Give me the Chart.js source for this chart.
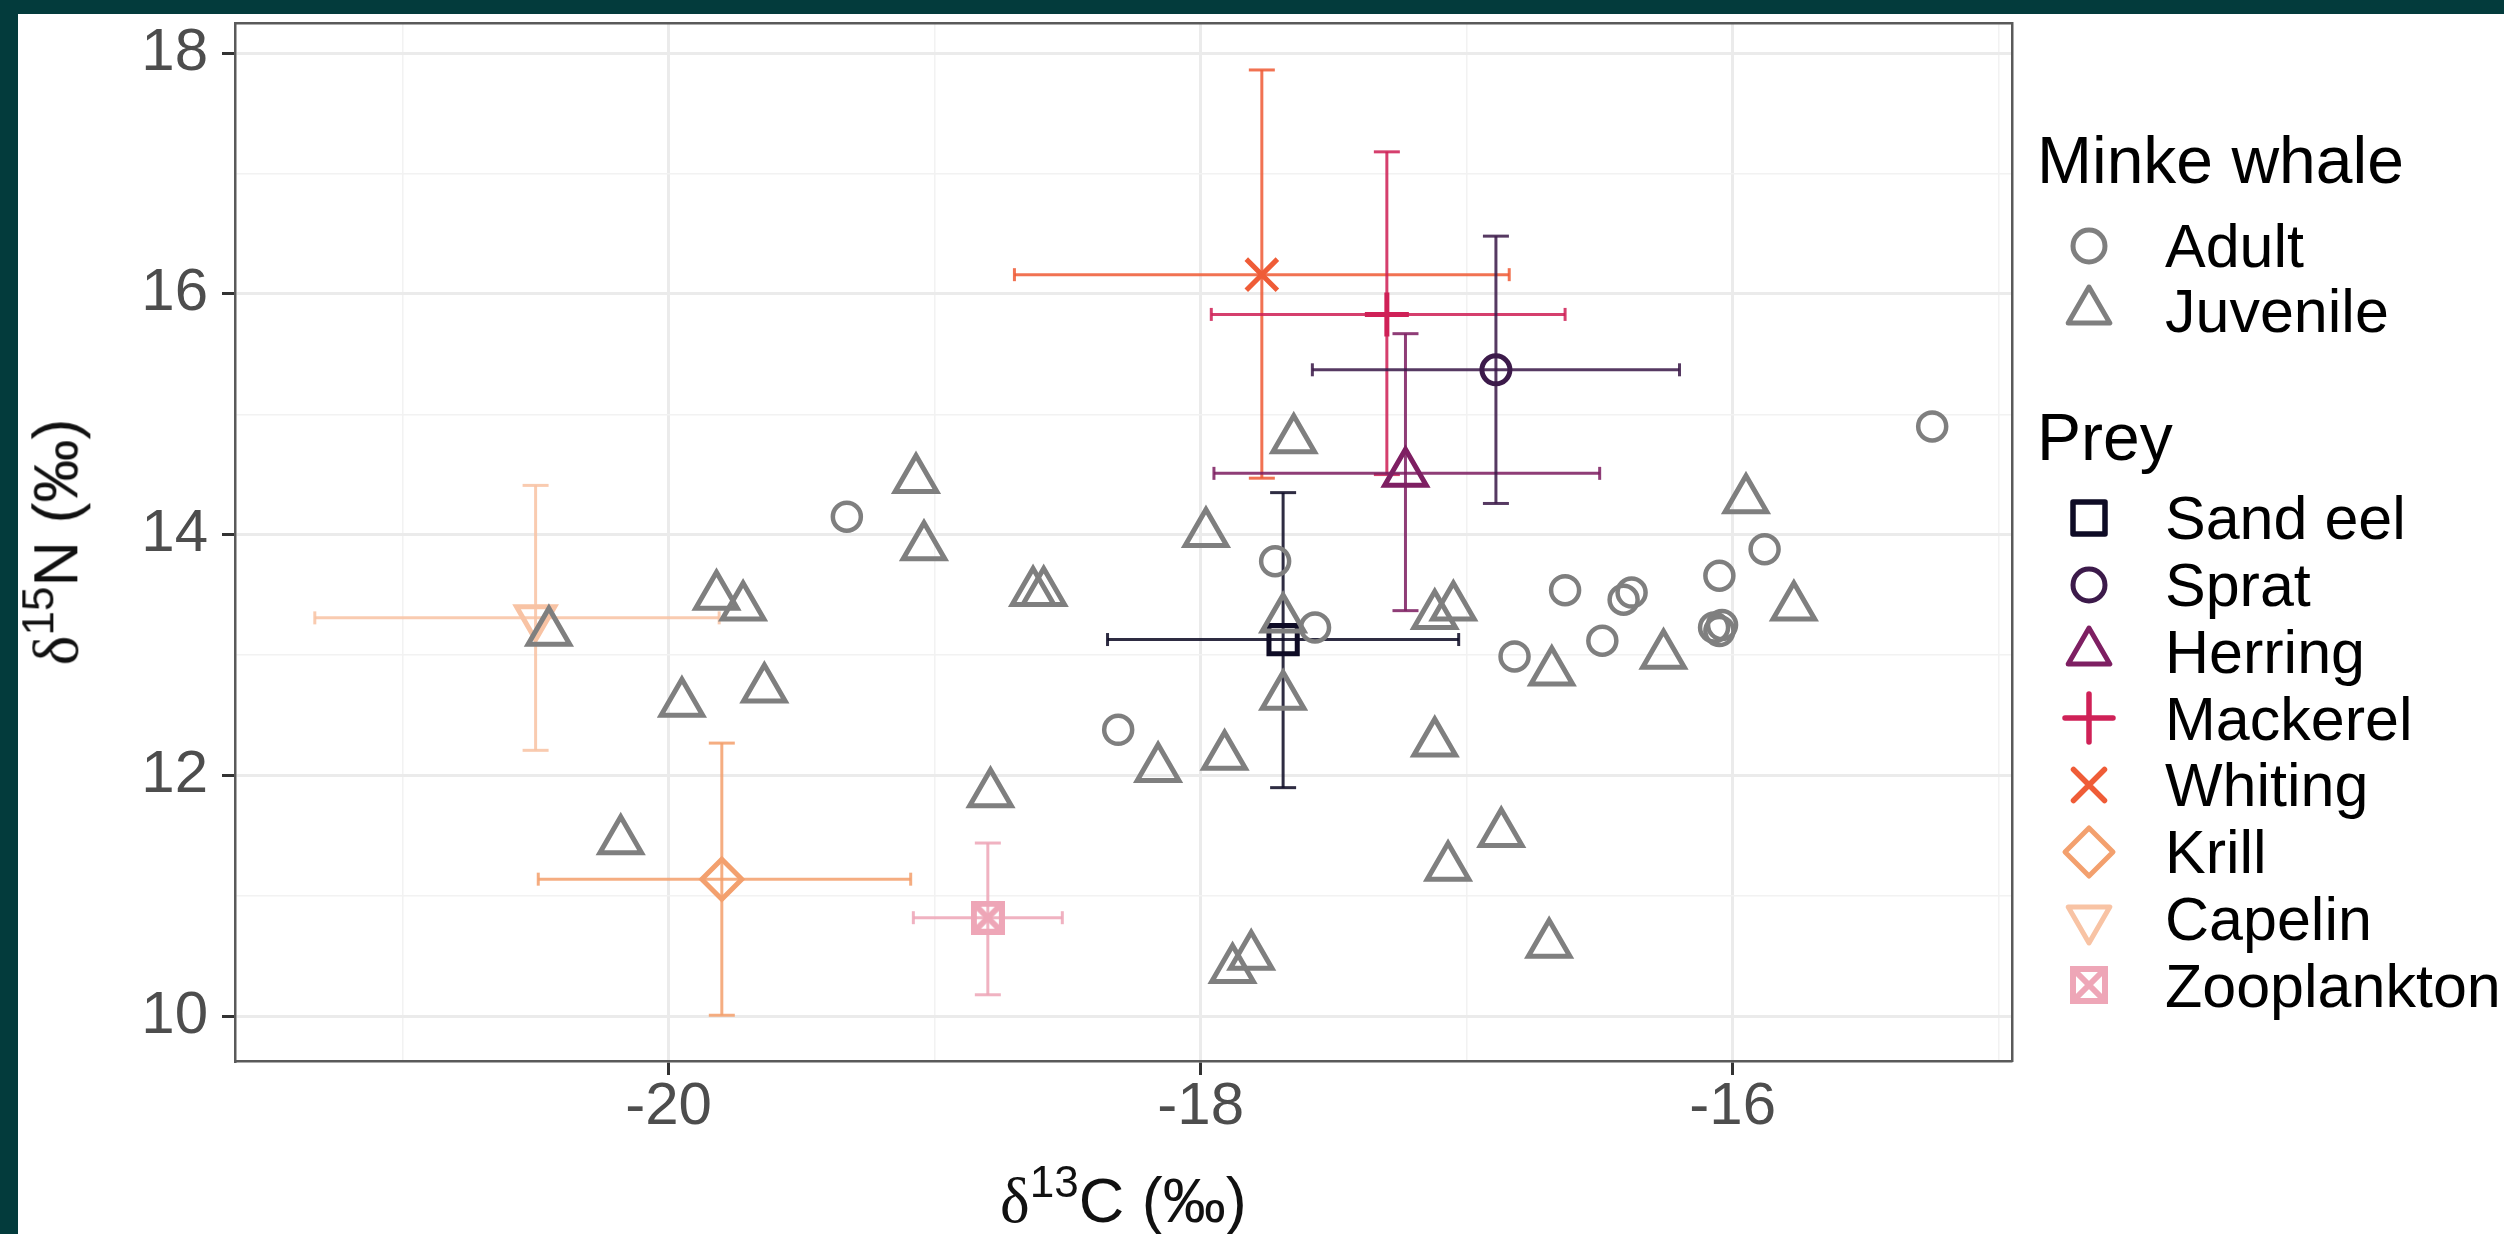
<!DOCTYPE html>
<html>
<head>
<meta charset="utf-8">
<script src="https://cdn.jsdelivr.net/npm/chart.js@4.4.0/dist/chart.umd.min.js"></script>
<style>
html, body { margin: 0; padding: 0; width: 2504px; height: 1234px; overflow: hidden; background: #033b3c; }
#panel { position: absolute; left: 18px; top: 14px; width: 2486px; height: 1220px; background: #fff; }
#stats { position: absolute; left: 0; top: 0; }
.lg { position: absolute; font-family: 'Liberation Sans', Arial, sans-serif; color: #000; white-space: nowrap; line-height: 1; }
.ttl { position: absolute; font-family: 'Liberation Sans', Arial, sans-serif; color: #111; white-space: nowrap; line-height: 1; }
.ttl .d { font-family: 'Liberation Serif', 'Times New Roman', serif; }
.ttl sup { font-size: 0.7em; vertical-align: baseline; position: relative; top: -0.55em; }
.mk { position: absolute; width: 70px; height: 70px; }
</style>
</head>
<body>
<div id="panel"><canvas id="stats" width="2486" height="1220"></canvas></div>
<div id="legend"></div>
<script>
const FONT = "'Liberation Sans', Arial, Helvetica, sans-serif";

// minke whale samples: d13C / d15N
const adultC = [-19.33, -17.72, -17.57, -18.31, -16.82, -16.63, -16.49, -16.41, -16.38, -16.05, -16.07, -16.04, -16.05, -15.88, -15.25];
const adultN = [14.15, 13.78, 13.23, 12.38, 12.99, 13.54, 13.12, 13.46, 13.52, 13.66, 13.23, 13.25, 13.20, 13.88, 14.90];
const juvC = [-19.07, -19.04, -19.82, -19.72, -20.45, -19.95, -19.64, -20.18, -18.79, -18.63, -18.59, -17.98, -17.65, -17.69, -17.69,
              -18.16, -17.91, -17.12, -17.05, -17.12, -16.87, -17.07, -17.88, -17.81, -16.69, -16.68, -16.26, -15.77, -15.95];
const juvN = [14.46, 13.90, 13.49, 13.40, 13.19, 12.60, 12.72, 11.46, 11.85, 13.52, 13.52, 14.01, 14.79, 13.30, 12.66,
              12.06, 12.16, 13.33, 13.40, 12.27, 11.52, 11.24, 10.39, 10.50, 10.60, 12.86, 13.00, 13.40, 14.29];

// prey means with error bar ends
const preyNames = ['Sand eel', 'Sprat', 'Herring', 'Mackerel', 'Whiting', 'Krill', 'Capelin', 'Zooplankton'];
const preyC     = [-17.69, -16.89, -17.23, -17.30, -17.77, -19.80, -20.50, -18.80];
const preyN     = [13.13, 15.37, 14.51, 15.83, 16.16, 11.14, 13.31, 10.82];
const preyCLow  = [-18.35, -17.58, -17.95, -17.96, -18.70, -20.49, -21.33, -19.08];
const preyCHigh = [-17.03, -16.20, -16.50, -16.63, -16.84, -19.09, -19.81, -18.52];
const preyNLow  = [11.90, 14.26, 13.37, 14.50, 14.47, 10.01, 12.21, 10.18];
const preyNHigh = [14.35, 16.48, 15.67, 17.18, 17.86, 12.27, 14.41, 11.44];
const preyColors = ['#0e0b25', '#3c1a4a', '#7e1f62', '#cf2157', '#ef5c37', '#f3a06e', '#f8c3a4', '#eea6b7'];
const preyStyles = ['rect', 'circle', 'triangle', 'cross', 'crossRot', 'rectRot', 'triangle', 'zoo'];
const preyRadius = [20, 14, 24, 22, 22, 20, 22, 17];
const preyRotation = [0, 0, 0, 0, 0, 0, 180, 0];

const whaleGroups = ['Adult', 'Juvenile'];
const whaleColor = '#7f7f7f';

const xTicks = [-20, -18, -16];
const yTicks = [10, 12, 14, 16, 18];

function zooMark(size, lw, color) {
    const c = document.createElement('canvas');
    c.width = size; c.height = size;
    const g = c.getContext('2d');
    g.strokeStyle = color;
    g.lineWidth = lw;
    const a = lw / 2, b = size - lw / 2;
    g.strokeRect(a, a, b - a, b - a);
    g.beginPath();
    g.moveTo(a, a); g.lineTo(b, b);
    g.moveTo(b, a); g.lineTo(a, b);
    g.stroke();
    return c;
}

window.addEventListener("load", function() {
    const datasets = [];
    datasets.push({
        label: 'Adult', order: 0,
        data: adultC.map((c, i) => ({x: c, y: adultN[i]})),
        pointStyle: 'circle', pointRadius: 14, pointBorderWidth: 4.5,
        pointBorderColor: whaleColor, pointBackgroundColor: 'rgba(0,0,0,0)'
    });
    datasets.push({
        label: 'Juvenile', order: 0,
        data: juvC.map((c, i) => ({x: c, y: juvN[i]})),
        pointStyle: 'triangle', pointRadius: 24, pointBorderWidth: 5,
        pointBorderColor: whaleColor, pointBackgroundColor: 'rgba(0,0,0,0)'
    });
    for (let i = 0; i < preyNames.length; i++) {
        const col = preyColors[i];
        const bar = col + 'dd';
        // vertical error bar
        datasets.push({
            label: preyNames[i] + ' N', order: 2, showLine: true,
            data: [{x: preyC[i], y: preyNLow[i]}, {x: preyC[i], y: preyNHigh[i]}],
            borderColor: bar, borderWidth: 3,
            pointStyle: 'line', pointRadius: 13, pointRotation: 0,
            pointBorderColor: bar, pointBorderWidth: 3
        });
        // horizontal error bar
        datasets.push({
            label: preyNames[i] + ' C', order: 2, showLine: true,
            data: [{x: preyCLow[i], y: preyN[i]}, {x: preyCHigh[i], y: preyN[i]}],
            borderColor: bar, borderWidth: 3,
            pointStyle: 'line', pointRadius: 6.5, pointRotation: 90,
            pointBorderColor: bar, pointBorderWidth: 3
        });
        const st = preyStyles[i] == 'zoo' ? zooMark(34, 6, col) : preyStyles[i];
        datasets.push({
            label: preyNames[i], order: 1,
            data: [{x: preyC[i], y: preyN[i]}],
            pointStyle: st, pointRadius: preyRadius[i], pointRotation: preyRotation[i],
            pointBorderWidth: 5, pointBorderColor: col, pointBackgroundColor: 'rgba(0,0,0,0)'
        });
    }

    const major = (list) => (c) => c.tick && list.includes(c.tick.value);
    const xMajor = major(xTicks), yMajor = major(yTicks);
    const frame = {display: true, color: '#5a5a5a', width: 2.5};

    const config = {
        type: 'scatter',
        data: {datasets: datasets},
        options: {
            responsive: false,
            animation: false,
            events: [],
            clip: false,
            layout: {autoPadding: false, padding: {left: 0, top: 9, right: 492, bottom: 0}},
            plugins: {legend: {display: false}, tooltip: {enabled: false}},
            scales: {
                x: {
                    type: 'linear', position: 'bottom', min: -21.63, max: -14.95,
                    afterFit: (s) => { s.height = 173; s.paddingLeft = 0; s.paddingRight = 0; },
                    ticks: {
                        stepSize: 1, includeBounds: false, autoSkip: false, maxRotation: 0,
                        font: {family: FONT, size: 60}, color: '#4d4d4d', padding: -4,
                        callback: (v) => xTicks.includes(v) ? String(v) : ''
                    },
                    grid: {
                        color: (c) => xMajor(c) ? '#ebebeb' : '#f2f2f2',
                        lineWidth: (c) => xMajor(c) ? 3 : 1.5,
                        tickColor: (c) => xMajor(c) ? '#333333' : 'rgba(0,0,0,0)',
                        tickLength: 14, tickWidth: 3
                    },
                    border: frame
                },
                y: {
                    type: 'linear', position: 'left', min: 9.63, max: 18.25,
                    afterFit: (s) => { s.width = 217; s.paddingTop = 0; s.paddingBottom = 0; },
                    ticks: {
                        stepSize: 1, includeBounds: false, autoSkip: false,
                        font: {family: FONT, size: 60}, color: '#4d4d4d', padding: 14,
                        callback: (v) => yTicks.includes(v) ? String(v) : ''
                    },
                    grid: {
                        color: (c) => yMajor(c) ? '#ebebeb' : '#f2f2f2',
                        lineWidth: (c) => yMajor(c) ? 3 : 1.5,
                        tickColor: (c) => yMajor(c) ? '#333333' : 'rgba(0,0,0,0)',
                        tickLength: 13, tickWidth: 3
                    },
                    border: frame
                },
                x2: {
                    type: 'linear', position: 'top', min: -21.63, max: -14.95,
                    afterFit: (s) => { s.height = 0; s.paddingLeft = 0; s.paddingRight = 0; },
                    ticks: {display: false}, grid: {display: false, drawTicks: false},
                    border: frame
                },
                y2: {
                    type: 'linear', position: 'right', min: 9.63, max: 18.25,
                    afterFit: (s) => { s.width = 0; s.paddingTop = 0; s.paddingBottom = 0; },
                    ticks: {display: false}, grid: {display: false, drawTicks: false},
                    border: frame
                }
            }
        }
    };
    const chart = new Chart(document.getElementById('stats'), config);

    // axis titles as html text so the isotope numbers can be superscripts
    const area = chart.chartArea;
    const ox = 18, oy = 14;
    const xt = document.createElement('div');
    xt.className = 'ttl';
    xt.style.fontSize = '63px';
    xt.style.fontFamily = "'Liberation Sans Narrow', 'Liberation Sans', Arial, sans-serif";
    xt.innerHTML = '<span class="d">δ</span><sup>13</sup>C (‰)';
    document.body.appendChild(xt);
    xt.style.left = (ox + (area.left + area.right) / 2 - xt.offsetWidth / 2) + 'px';
    xt.style.top = (1222 - 0.8465 * 63) + 'px';

    const yt = document.createElement('div');
    yt.className = 'ttl';
    yt.style.fontSize = '63px';
    yt.innerHTML = '<span class="d">δ</span><sup>15</sup>N (‰)';
    document.body.appendChild(yt);
    const cy = oy + (area.top + area.bottom) / 2;
    yt.style.left = (56 - yt.offsetWidth / 2) + 'px';
    yt.style.top = (cy - yt.offsetHeight / 2) + 'px';
    yt.style.transform = 'rotate(-90deg)';

    // legend (html, two groups)
    const lg = document.getElementById('legend');
    function mark(style, color, rot) {
        let s = '';
        const a = 'fill="none" stroke="' + color + '" stroke-linejoin="round" stroke-linecap="round"';
        if (style == 'circle') s = '<circle cx="35" cy="35" r="16" stroke-width="5" ' + a + '/>';
        else if (style == 'triangle' && rot) s = '<polygon points="35,59 55.8,23 14.2,23" stroke-width="5" ' + a + '/>';
        else if (style == 'triangle') s = '<polygon points="35,11 55.8,47 14.2,47" stroke-width="5" ' + a + '/>';
        else if (style == 'rect') s = '<rect x="19" y="19" width="32" height="32" stroke-width="5.5" ' + a + '/>';
        else if (style == 'cross') s = '<path d="M35 11V59M11 35H59" stroke-width="5.5" ' + a + '/>';
        else if (style == 'crossRot') s = '<path d="M19.5 19.5L50.5 50.5M50.5 19.5L19.5 50.5" stroke-width="5.5" ' + a + '/>';
        else if (style == 'rectRot') s = '<polygon points="35,11 59,35 35,59 11,35" stroke-width="5" ' + a + '/>';
        else if (style == 'zoo') s = '<path d="M19 19H51V51H19ZM19 19L51 51M51 19L19 51" stroke-width="6" fill="none" stroke="' + color + '"/>';
        return '<svg class="mk" viewBox="0 0 70 70">' + s + '</svg>';
    }
    let html = '';
    function title(text, base) {
        html += '<div class="lg" style="left:2037px;top:' + (base - 0.8465 * 66) + 'px;font-size:66px">' + text + '</div>';
    }
    function row(text, base, sym) {
        html += '<div class="lg" style="left:2165px;top:' + (base - 0.8465 * 61) + 'px;font-size:61px">' + text + '</div>';
        html += '<div style="position:absolute;left:' + (2089 - 35) + 'px;top:' + (base - 22 - 35) + 'px">' + sym + '</div>';
    }
    title('Minke whale', 183);
    row(whaleGroups[0], 268, mark('circle', whaleColor));
    row(whaleGroups[1], 333, mark('triangle', whaleColor));
    title('Prey', 460);
    for (let i = 0; i < preyNames.length; i++) {
        row(preyNames[i], 540 + 66.75 * i, mark(preyStyles[i], preyColors[i], preyRotation[i]));
    }
    lg.innerHTML = html;
});
</script>
</body>
</html>
